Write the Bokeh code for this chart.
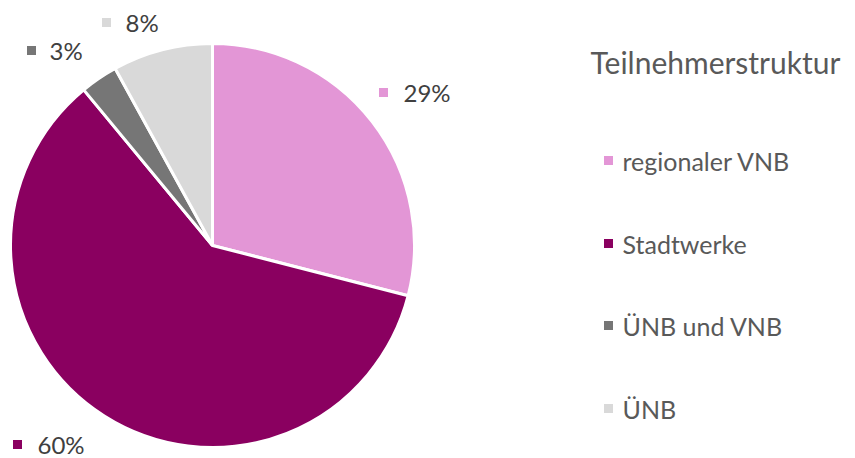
import numpy as np
from bokeh.plotting import figure
from bokeh.models import ColumnDataSource, Range1d
from bokeh.core.properties import value
from bokeh.embed import file_html
from bokeh.resources import INLINE

categories = ["regionaler VNB", "Stadtwerke", "ÜNB und VNB", "ÜNB"]
shares = [29, 60, 3, 8]
colors = ["#E396D6", "#8A0060", "#767676", "#D9D9D9"]
title_text = "Teilnehmerstruktur"

W, H = 855, 458
FONT = "Lato"

p = figure(width=W, height=H, output_backend="svg", toolbar_location=None,
           x_range=Range1d(0, W), y_range=Range1d(0, H),
           min_border=0, outline_line_color=None)
p.axis.visible = False
p.grid.visible = False

def sy(y):
    return H - y

# pie geometry (layout)
cx, cy, r = 212, sy(245), 202
vals = np.array(shares, dtype=float)
fr = vals / vals.sum()
cum = np.concatenate([[0], np.cumsum(fr)])
start = np.pi / 2 - cum[:-1] * 2 * np.pi
end = np.pi / 2 - cum[1:] * 2 * np.pi
src = ColumnDataSource(dict(start=start, end=end, color=colors, cat=categories))
p.wedge(x=cx, y=cy, radius=r, start_angle="start", end_angle="end",
        direction="clock", fill_color="color", line_color="white",
        line_width=3, source=src)

# data labels (layout positions in screen pixels)
lab_marker = [(383, 92), (17, 444), (31, 50), (106, 22)]
lab_text_x = [403, 37, 49, 125]
lx = [m[0] for m in lab_marker]
ly = [sy(m[1]) for m in lab_marker]
labels = [f"{int(round(v))}%" for v in shares]
p.scatter(x=lx, y=ly, marker="square", size=9, fill_color=colors, line_color=None)
p.text(x=lab_text_x, y=ly, text=labels, text_font=value(FONT), text_font_size="24px",
       text_color="#404040", text_baseline="middle", text_align="left")

# legend
p.text(x=[590], y=[sy(61)], text=[title_text], text_font=value(FONT),
       text_font_size="30px", text_color="#595959", text_baseline="middle")
leg_y_screen = [160, 243, 325, 408]
gy = [sy(y) for y in leg_y_screen]
p.scatter(x=[608] * 4, y=gy, marker="square", size=9, fill_color=colors, line_color=None)
p.text(x=[622] * 4, y=gy, text=categories, text_font=value(FONT),
       text_font_size="25px", text_color="#595959", text_baseline="middle")

open("out.html", "w").write(file_html(p, INLINE))
